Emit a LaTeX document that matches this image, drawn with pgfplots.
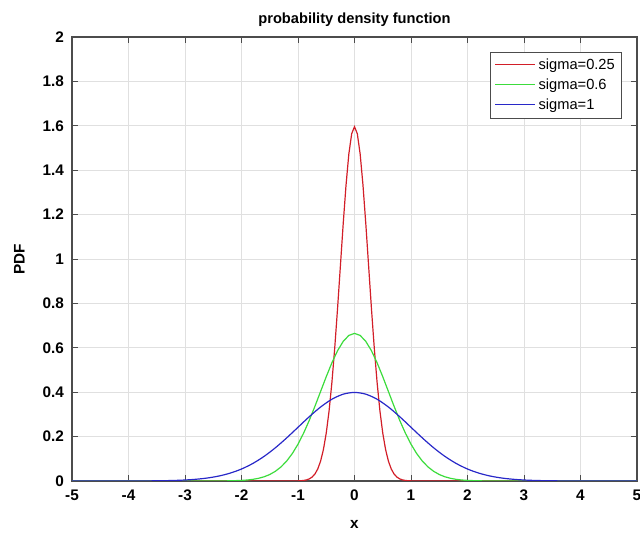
\documentclass[border=0pt]{standalone}
\usepackage{fontspec}
\setmainfont{Liberation Sans}
\usepackage{pgfplots}
\pgfplotsset{compat=1.18}

\definecolor{pdfred}{RGB}{210,30,40}
\definecolor{pdfgreen}{RGB}{60,220,60}
\definecolor{pdfblue}{RGB}{40,40,200}

\begin{document}
\begin{tikzpicture}
\begin{axis}[
  scale only axis, width=423.75pt, height=333pt,
  xmin=-5, xmax=5, ymin=0, ymax=2,
  xtick={-5,-4,...,5},
  ytick={0,0.2,0.4,0.6,0.8,1,1.2,1.4,1.6,1.8,2},
  /pgf/number format/assume math mode=true,
  yticklabel style={/pgf/number format/fixed, xshift=-2.5pt},
  xticklabel style={yshift=-3pt},
  tick label style={font=\fontsize{11.5}{13}\selectfont\bfseries},
  tick align=inside, major tick length=4.5pt,
  tick style={black!70, line width=0.6pt},
  axis line style={black!70, line width=0.8pt},
  grid=major, major grid style={black!12, line width=0.5pt},
  title={probability density function},
  title style={font=\fontsize{11}{13}\selectfont\bfseries, yshift=-2pt},
  xlabel={x}, ylabel={PDF},
  xlabel style={at={(axis description cs:0.5,-0.097)}, anchor=center},
  ylabel style={at={(axis description cs:-0.093,0.5)}, anchor=center},
  label style={font=\fontsize{11.5}{13}\selectfont\bfseries},
  legend style={at={(0.973,0.966)}, anchor=north east, draw=black!70,
    font=\fontsize{11}{13}\selectfont, row sep=1.5pt, inner sep=3pt},
  legend cell align=left,
  legend image code/.code={\draw[#1, line width=1.2pt] (0pt,0.5pt) -- (30pt,0.5pt);},
]
% sigma = 0.25
\addplot[pdfred, line width=0.9pt] coordinates {
(-5,0) (-1.2,0.000016) (-1.1,0.000100) (-1.0,0.000535) (-0.95,0.001168)
(-0.9,0.002448) (-0.85,0.004929) (-0.8,0.009536) (-0.75,0.017727)
(-0.7,0.031662) (-0.65,0.054331) (-0.6,0.089578) (-0.55,0.141899)
(-0.5,0.215964) (-0.45,0.315801) (-0.4,0.443683) (-0.35,0.598909)
(-0.3,0.776744) (-0.25,0.967883) (-0.2,1.158767) (-0.15,1.332898)
(-0.1,1.473080) (-0.05,1.564171) (0,1.595769)
(0.05,1.564171) (0.1,1.473080) (0.15,1.332898) (0.2,1.158767)
(0.25,0.967883) (0.3,0.776744) (0.35,0.598909) (0.4,0.443683)
(0.45,0.315801) (0.5,0.215964) (0.55,0.141899) (0.6,0.089578)
(0.65,0.054331) (0.7,0.031662) (0.75,0.017727) (0.8,0.009536)
(0.85,0.004929) (0.9,0.002448) (0.95,0.001168) (1.0,0.000535)
(1.1,0.000100) (1.2,0.000016) (5,0)
};
% sigma = 0.6
\addplot[pdfgreen, line width=0.9pt] coordinates {
(-5,0) (-3,0) (-2.7,0.000027) (-2.4,0.000223) (-2.2,0.000801)
(-2.0,0.002571) (-1.9,0.004418) (-1.8,0.007386) (-1.7,0.012010)
(-1.6,0.018994) (-1.5,0.029214) (-1.4,0.043714) (-1.3,0.063588)
(-1.2,0.089984) (-1.1,0.123852) (-1.0,0.165795) (-0.9,0.215862)
(-0.8,0.273350) (-0.7,0.336665) (-0.6,0.403285) (-0.5,0.469853)
(-0.4,0.532413) (-0.3,0.586776) (-0.2,0.628972) (-0.1,0.655733)
(0,0.664904)
(0.1,0.655733) (0.2,0.628972) (0.3,0.586776) (0.4,0.532413)
(0.5,0.469853) (0.6,0.403285) (0.7,0.336665) (0.8,0.273350)
(0.9,0.215862) (1.0,0.165795) (1.1,0.123852) (1.2,0.089984)
(1.3,0.063588) (1.4,0.043714) (1.5,0.029214) (1.6,0.018994)
(1.7,0.012010) (1.8,0.007386) (1.9,0.004418) (2.0,0.002571)
(2.2,0.000801) (2.4,0.000223) (2.7,0.000027) (3,0) (5,0)
};
% sigma = 1
\addplot[pdfblue, line width=0.9pt, smooth] coordinates {
(-5,0.0000015) (-4.5,0.000016) (-4.0,0.000134) (-3.8,0.000292)
(-3.6,0.000612) (-3.4,0.001232) (-3.2,0.002384) (-3.0,0.004432)
(-2.8,0.007915) (-2.6,0.013583) (-2.4,0.022395) (-2.2,0.035475)
(-2.0,0.053991) (-1.8,0.078950) (-1.6,0.110921) (-1.4,0.149727)
(-1.2,0.194186) (-1.0,0.241971) (-0.8,0.289692) (-0.6,0.333225)
(-0.4,0.368270) (-0.2,0.391043) (0,0.398942)
(0.2,0.391043) (0.4,0.368270) (0.6,0.333225) (0.8,0.289692)
(1.0,0.241971) (1.2,0.194186) (1.4,0.149727) (1.6,0.110921)
(1.8,0.078950) (2.0,0.053991) (2.2,0.035475) (2.4,0.022395)
(2.6,0.013583) (2.8,0.007915) (3.0,0.004432) (3.2,0.002384)
(3.4,0.001232) (3.6,0.000612) (3.8,0.000292) (4.0,0.000134)
(4.5,0.000016) (5,0.0000015)
};
\legend{sigma=0.25, sigma=0.6, sigma=1}
\end{axis}
\pgfresetboundingbox
\path (current axis.south west) ++(-54pt,-39.75pt) coordinate (bbsw)
      (current axis.north east) ++(2.25pt,27.75pt) coordinate (bbne);
\useasboundingbox (bbsw) rectangle (bbne);
\end{tikzpicture}
\end{document}
